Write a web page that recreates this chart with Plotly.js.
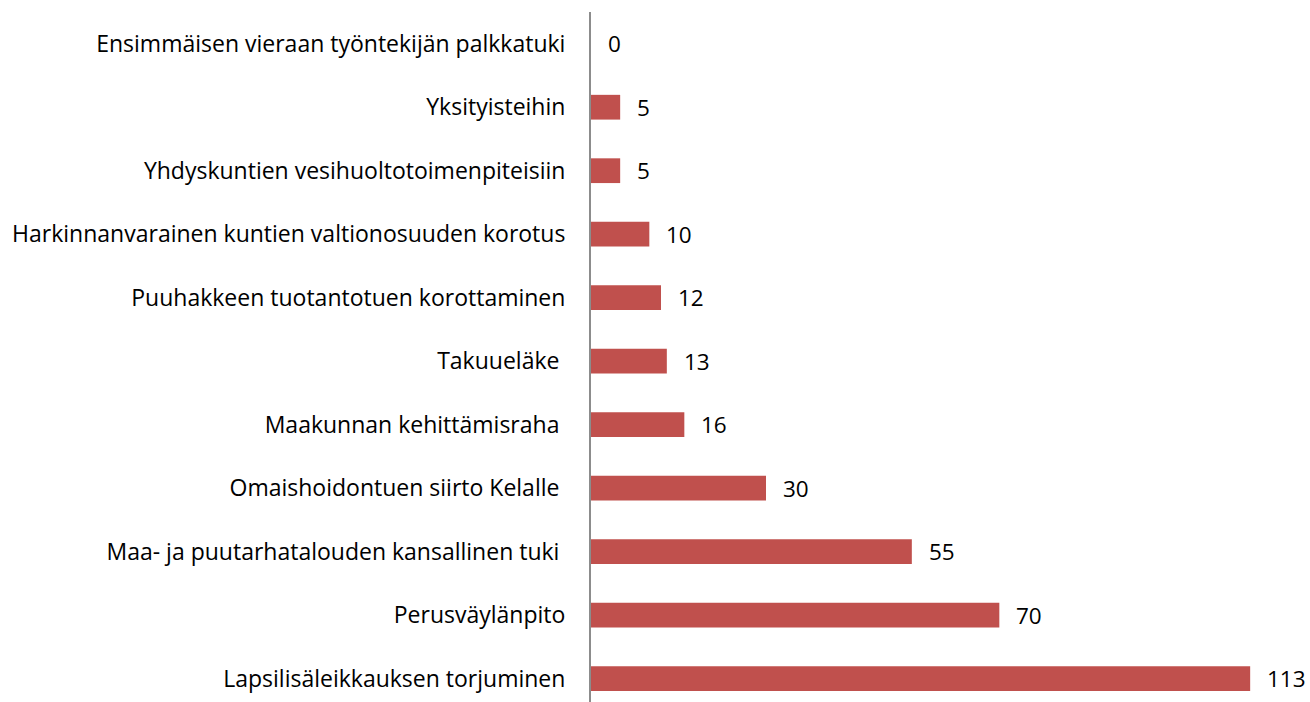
<!DOCTYPE html>
<html><head><meta charset="utf-8">
<script src="https://cdn.plot.ly/plotly-3.0.1.min.js"></script>
<style>html,body{margin:0;padding:0;background:#fff}#chart{width:1310px;height:702px}</style>
</head><body><div id="chart"></div>
<script>
const categories = [
  "Lapsilisäleikkauksen torjuminen",
  "Perusväylänpito",
  "Maa- ja puutarhatalouden kansallinen tuki\u00A0",
  "Omaishoidontuen siirto Kelalle\u00A0",
  "Maakunnan kehittämisraha\u00A0",
  "Takuueläke\u00A0",
  "Puuhakkeen tuotantotuen korottaminen",
  "Harkinnanvarainen kuntien valtionosuuden korotus",
  "Yhdyskuntien vesihuoltotoimenpiteisiin",
  "Yksityisteihin",
  "Ensimmäisen vieraan työntekijän palkkatuki"
];
const values = [113, 70, 55, 30, 16, 13, 12, 10, 5, 5, 0];

const trace = {
  type: 'bar', orientation: 'h',
  x: values, y: categories,
  marker: {color: '#C0504D'},
  hoverinfo: 'x+y'
};
const annotations = values.map((v, i) => ({
  x: v, y: categories[i], xref: 'x', yref: 'y',
  text: String(v), showarrow: false, xanchor: 'left', xshift: 15,
  font: {family: 'Open Sans', size: 22.5, color: '#000'}
}));
const layout = {
  width: 1310, height: 702,
  margin: {l: 591, r: 19, t: 12, b: 0},
  paper_bgcolor: '#fff', plot_bgcolor: '#fff',
  bargap: 0.61,
  showlegend: false,
  font: {family: 'Open Sans', size: 23, color: '#000'},
  xaxis: {range: [0, 120], visible: false, showgrid: false, zeroline: false},
  yaxis: {
    type: 'category', range: [-0.37, 10.5],
    showline: true, linecolor: '#8c8c8c', linewidth: 2,
    ticks: '', ticklabelstandoff: 19, showgrid: false, zeroline: false,
    tickfont: {family: 'Open Sans', size: 23, color: '#000'}
  },
  annotations: annotations
};
Plotly.newPlot('chart', [trace], layout, {displayModeBar: false, staticPlot: true});
</script></body></html>
